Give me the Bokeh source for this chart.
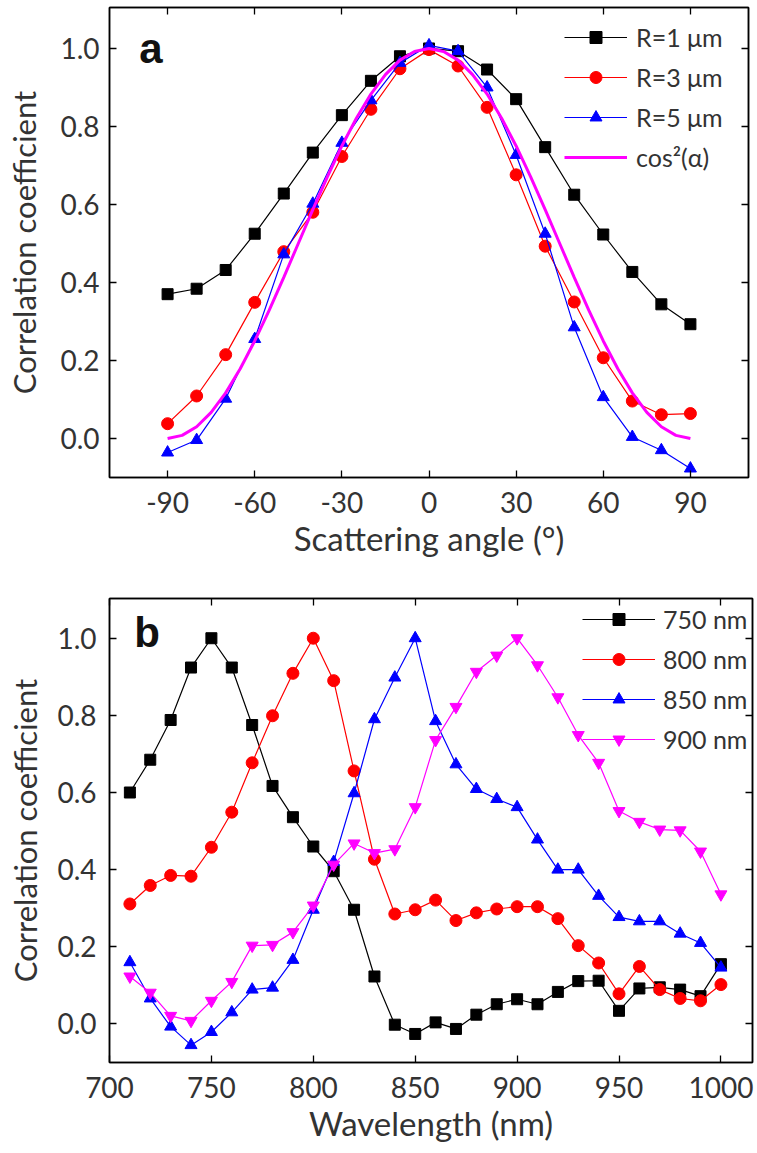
from bokeh.plotting import figure
from bokeh.models import (LinearAxis, FixedTicker, PrintfTickFormatter, Label, Range1d,
                          CustomLabelingPolicy)
from bokeh.layouts import column
from bokeh.embed import file_html
from bokeh.resources import INLINE

# ---------------- Panel a data ----------------
angle_deg = [-90, -80, -70, -60, -50, -40, -30, -20, -10, 0,
             10, 20, 30, 40, 50, 60, 70, 80, 90]
r1_um = [0.370, 0.384, 0.432, 0.525, 0.628, 0.733, 0.829, 0.917, 0.980, 1.000,
         0.993, 0.946, 0.870, 0.747, 0.625, 0.523, 0.427, 0.344, 0.293]
r3_um = [0.038, 0.109, 0.215, 0.349, 0.479, 0.580, 0.723, 0.844, 0.948, 0.997,
         0.955, 0.849, 0.676, 0.493, 0.350, 0.207, 0.096, 0.061, 0.064]
r5_um = [-0.036, -0.004, 0.102, 0.255, 0.472, 0.602, 0.758, 0.867, 0.963, 1.008,
         0.993, 0.900, 0.727, 0.525, 0.285, 0.106, 0.004, -0.030, -0.077]
cos_alpha = [-90, -85, -80, -75, -70, -65, -60, -55, -50, -45, -40, -35, -30, -25,
             -20, -15, -10, -5, 0, 5, 10, 15, 20, 25, 30, 35, 40, 45, 50, 55, 60,
             65, 70, 75, 80, 85, 90]
cos_sq = [0.000, 0.008, 0.030, 0.067, 0.117, 0.179, 0.250, 0.329, 0.413, 0.500,
          0.587, 0.671, 0.750, 0.821, 0.883, 0.933, 0.970, 0.992, 1.000, 0.992,
          0.970, 0.933, 0.883, 0.821, 0.750, 0.671, 0.587, 0.500, 0.413, 0.329,
          0.250, 0.179, 0.117, 0.067, 0.030, 0.008, 0.000]
angle_ticks = [-90, -60, -30, 0, 30, 60, 90]

# ---------------- Panel b data ----------------
wavelength = [710, 720, 730, 740, 750, 760, 770, 780, 790, 800,
              810, 820, 830, 840, 850, 860, 870, 880, 890, 900,
              910, 920, 930, 940, 950, 960, 970, 980, 990, 1000]
wl_750 = [0.600, 0.685, 0.788, 0.924, 1.000, 0.924, 0.775, 0.617, 0.536, 0.460,
          0.396, 0.296, 0.123, -0.002, -0.026, 0.004, -0.013, 0.024, 0.051, 0.064,
          0.051, 0.083, 0.111, 0.112, 0.034, 0.092, 0.095, 0.089, 0.072, 0.155]
wl_800 = [0.311, 0.359, 0.385, 0.383, 0.458, 0.549, 0.677, 0.799, 0.909, 1.000,
          0.890, 0.656, 0.427, 0.285, 0.296, 0.321, 0.268, 0.288, 0.298, 0.304,
          0.304, 0.273, 0.203, 0.158, 0.078, 0.149, 0.089, 0.066, 0.060, 0.102]
wl_850 = [0.160, 0.066, -0.007, -0.055, -0.021, 0.030, 0.089, 0.094, 0.166, 0.296,
          0.420, 0.598, 0.790, 0.898, 1.000, 0.785, 0.673, 0.609, 0.583, 0.562,
          0.478, 0.400, 0.400, 0.332, 0.277, 0.266, 0.266, 0.234, 0.210, 0.146]
wl_900 = [0.123, 0.081, 0.021, 0.008, 0.060, 0.109, 0.203, 0.205, 0.238, 0.307,
          0.413, 0.468, 0.443, 0.453, 0.562, 0.736, 0.822, 0.913, 0.955, 1.000,
          0.930, 0.847, 0.749, 0.677, 0.552, 0.524, 0.504, 0.502, 0.447, 0.336]
wl_ticks = [700, 750, 800, 850, 900, 950, 1000]
corr_ticks = [0.0, 0.2, 0.4, 0.6, 0.8, 1.0]

FONT = "Lato"
TXT = "#333333"

HIDE_ALL = """
for (const i of indices) {
    indices.unset(i)
}
return indices
"""


def style(p, xticks, yticks, xfmt, ylabel_standoff, ytitle_standoff):
    p.xgrid.visible = False
    p.ygrid.visible = False
    p.outline_line_color = "black"
    p.outline_line_width = 1.5
    for ax in (p.xaxis[0], p.yaxis[0]):
        ax.axis_line_color = "black"
        ax.axis_line_width = 1.5
        ax.major_tick_in = 7
        ax.major_tick_out = 0
        ax.minor_tick_in = 0
        ax.minor_tick_out = 0
        ax.major_tick_line_width = 1.3
        ax.major_label_text_font = FONT
        ax.major_label_text_font_size = "28px"
        ax.major_label_text_color = TXT
        ax.axis_label_text_font = FONT
        ax.axis_label_text_font_style = "normal"
        ax.axis_label_text_color = TXT
    p.xaxis[0].axis_label_text_font_size = "33px"
    p.yaxis[0].axis_label_text_font_size = "31px"
    p.xaxis[0].ticker = FixedTicker(ticks=xticks)
    p.yaxis[0].ticker = FixedTicker(ticks=yticks)
    p.xaxis[0].formatter = PrintfTickFormatter(format=xfmt)
    p.yaxis[0].formatter = PrintfTickFormatter(format="%.1f")
    p.xaxis[0].major_label_standoff = 14
    p.xaxis[0].axis_label_standoff = 2
    p.yaxis[0].major_label_standoff = ylabel_standoff
    p.yaxis[0].axis_label_standoff = ytitle_standoff
    for ticks, side in ((xticks, "above"), (yticks, "right")):
        ax = LinearAxis(ticker=FixedTicker(ticks=ticks),
                        major_label_text_font_size="1px",
                        major_label_policy=CustomLabelingPolicy(code=HIDE_ALL),
                        major_label_standoff=0,
                        major_tick_in=7, major_tick_out=0,
                        minor_tick_in=0, minor_tick_out=0,
                        major_tick_line_width=1.3,
                        axis_line_color="black", axis_line_width=1.5)
        p.add_layout(ax, side)


def style_legend(p, loc, gw, standoff):
    lg = p.legend[0]
    lg.location = loc
    lg.border_line_color = None
    lg.background_fill_alpha = 0
    lg.padding = 0
    lg.margin = 0
    lg.spacing = 10
    lg.glyph_width = gw
    lg.glyph_height = 30
    lg.label_height = 30
    lg.label_standoff = standoff
    lg.label_text_font = FONT
    lg.label_text_font_size = "25px"
    lg.label_text_color = TXT


# ---------------- Panel a ----------------
pa = figure(width=752, height=560, output_backend="svg", toolbar_location=None,
            x_range=Range1d(-110, 110), y_range=Range1d(-0.1, 1.105),
            min_border_left=106, min_border_right=4, min_border_top=7,
            min_border_bottom=82,
            x_axis_label="Scattering angle (°)",
            y_axis_label="Correlation coefficient")
style(pa, angle_ticks, corr_ticks, "%d", 10, 14)

pa.line(angle_deg, r1_um, color="black", line_width=1.2, legend_label="R=1 μm")
pa.scatter(angle_deg, r1_um, marker="square", size=11, color="black", legend_label="R=1 μm")
pa.line(angle_deg, r3_um, color="red", line_width=1.2, legend_label="R=3 μm")
pa.scatter(angle_deg, r3_um, marker="circle", size=12, color="red", legend_label="R=3 μm")
pa.line(angle_deg, r5_um, color="blue", line_width=1.2, legend_label="R=5 μm")
pa.scatter(angle_deg, r5_um, marker="triangle", size=12, color="blue", legend_label="R=5 μm")
pa.line(cos_alpha, cos_sq, color="magenta", line_width=3, legend_label="cos²(α)")
style_legend(pa, (455, 305), 63, 9)
pa.add_layout(Label(x=-99.8, y=1.0, text="a", text_font="Liberation Sans",
                    text_font_style="bold", text_font_size="42px",
                    text_baseline="alphabetic", text_color="#111111"))

# ---------------- Panel b ----------------
pb = figure(width=756, height=585, output_backend="svg", toolbar_location=None,
            x_range=Range1d(700, 1015.5), y_range=Range1d(-0.1, 1.103),
            min_border_left=109, min_border_right=4, min_border_top=38,
            min_border_bottom=76,
            x_axis_label="Wavelength (nm)",
            y_axis_label="Correlation coefficient")
style(pb, wl_ticks, corr_ticks, "%d", 13, 10)

pb.line(wavelength, wl_750, color="black", line_width=1.2, legend_label="750 nm")
pb.scatter(wavelength, wl_750, marker="square", size=11, color="black", legend_label="750 nm")
pb.line(wavelength, wl_800, color="red", line_width=1.2, legend_label="800 nm")
pb.scatter(wavelength, wl_800, marker="circle", size=12, color="red", legend_label="800 nm")
pb.line(wavelength, wl_850, color="blue", line_width=1.2, legend_label="850 nm")
pb.scatter(wavelength, wl_850, marker="triangle", size=12, color="blue", legend_label="850 nm")
pb.line(wavelength, wl_900, color="magenta", line_width=1.2, legend_label="900 nm")
pb.scatter(wavelength, wl_900, marker="inverted_triangle", size=12, color="magenta", legend_label="900 nm")
style_legend(pb, (473, 308), 73, 8)
pb.add_layout(Label(x=712.2, y=1.015, text="b", text_font="Liberation Sans",
                    text_font_style="bold", text_font_size="42px",
                    text_baseline="alphabetic", text_color="#111111"))

layout = column(pa, pb, spacing=0)
open("out.html", "w").write(file_html(layout, INLINE))
